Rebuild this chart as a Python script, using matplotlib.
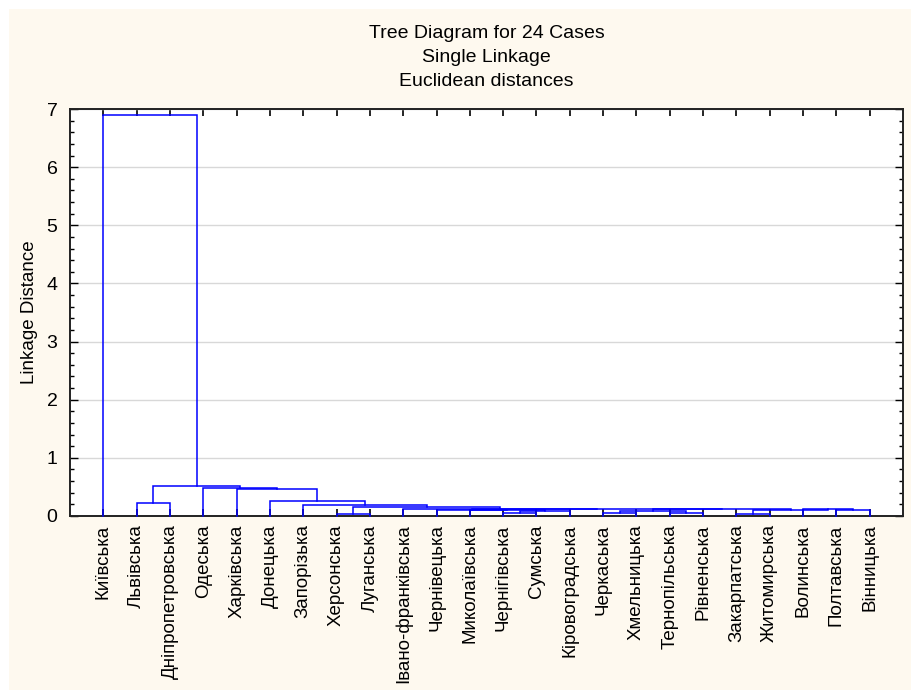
import matplotlib
matplotlib.use("Agg")
import matplotlib.pyplot as plt
from matplotlib.patches import Rectangle
from matplotlib.ticker import MultipleLocator

plt.rcParams['font.family'] = ['Liberation Sans', 'DejaVu Sans']

title_lines = ["Tree Diagram for 24 Cases", "Single Linkage", "Euclidean distances"]
y_label = "Linkage Distance"

leaves = ["Київська", "Львівська", "Дніпропетровська", "Одеська", "Харківська",
          "Донецька", "Запорізька", "Херсонська", "Луганська", "Івано-франківська",
          "Чернівецька", "Миколаївська", "Чернігівська", "Сумська", "Кіровоградська",
          "Черкаська", "Хмельницька", "Тернопільська", "Рівненська", "Закарпатська",
          "Житомирська", "Волинська", "Полтавська", "Вінницька"]

# merges: (left child, right child, linkage distance); children are leaf numbers (1..24)
# or names of earlier merges
merge_names = ["P", "A", "B", "C", "D", "E", "F", "F2", "R2", "R1", "R",
               "L3", "L2", "L", "X8", "X7", "X6", "X5", "X4", "X3", "X2", "X1", "ROOT"]
merge_left = [2, 8, 13, 16, 18, 20, 23, 22, "E", "C", "R1",
              "B", 12, 11, "L", 10, "A", 7, 6, 5, 4, "P", 1]
merge_right = [3, 9, 14, 17, 19, 21, 24, "F", "F2", "D", "R2",
               15, "L3", "L2", "R", "X8", "X7", "X6", "X5", "X4", "X3", "X2", "X1"]
merge_height = [0.23, 0.03, 0.06, 0.05, 0.05, 0.04, 0.10, 0.12, 0.11, 0.09, 0.115,
                0.08, 0.10, 0.11, 0.12, 0.125, 0.15, 0.19, 0.26, 0.46, 0.49, 0.52, 6.9]

fig = plt.figure(figsize=(9.11, 6.90), dpi=100)
fig.patch.set_facecolor("white")
fig.patches.append(Rectangle((9 / 911, 0), 1, 1 - 9 / 690, transform=fig.transFigure,
                             facecolor="#FEF9EF", edgecolor="none", zorder=-10))

ax = fig.add_axes([70 / 911, 1 - 516 / 690, (903 - 70) / 911, (516 - 109) / 690])
ax.set_facecolor("white")

pos = {}
hgt = {}
for i in range(len(leaves)):
    pos[i + 1] = i + 1
    hgt[i + 1] = 0.0

for name, l, r, h in zip(merge_names, merge_left, merge_right, merge_height):
    xl, xr = pos[l], pos[r]
    ax.plot([xl, xl, xr, xr], [hgt[l], h, h, hgt[r]], color="#0000FF", lw=1.1,
            solid_joinstyle="miter", zorder=3, clip_on=False)
    pos[name] = (xl + xr) / 2
    hgt[name] = h

ax.set_xlim(0, len(leaves) + 1)
ax.set_ylim(0, 7)
ax.set_xticks(range(1, len(leaves) + 1))
ax.set_xticklabels(leaves, rotation=90, fontsize=13.5)
ax.yaxis.set_major_locator(MultipleLocator(1))
ax.yaxis.set_minor_locator(MultipleLocator(0.2))
ax.tick_params(axis="y", which="major", direction="in", length=6, width=1,
               labelsize=14, right=True, pad=9)
ax.tick_params(axis="y", which="minor", direction="in", length=3, width=1, right=True)
ax.tick_params(axis="x", which="major", direction="in", length=5, width=1.2,
               top=True, pad=6)
ax.grid(axis="y", which="major", color="#D8D8D8", lw=1, zorder=0)
ax.set_axisbelow(True)
for s in ax.spines.values():
    s.set_linewidth(1.4)
    s.set_color("#222222")

ax.set_ylabel(y_label, fontsize=13.5, labelpad=6)

for k, t in enumerate(title_lines):
    fig.text(486.5 / 911, 1 - (34 + 24 * k) / 690, t, ha="center", va="center", fontsize=14)

fig.savefig("out.png", dpi=100)
